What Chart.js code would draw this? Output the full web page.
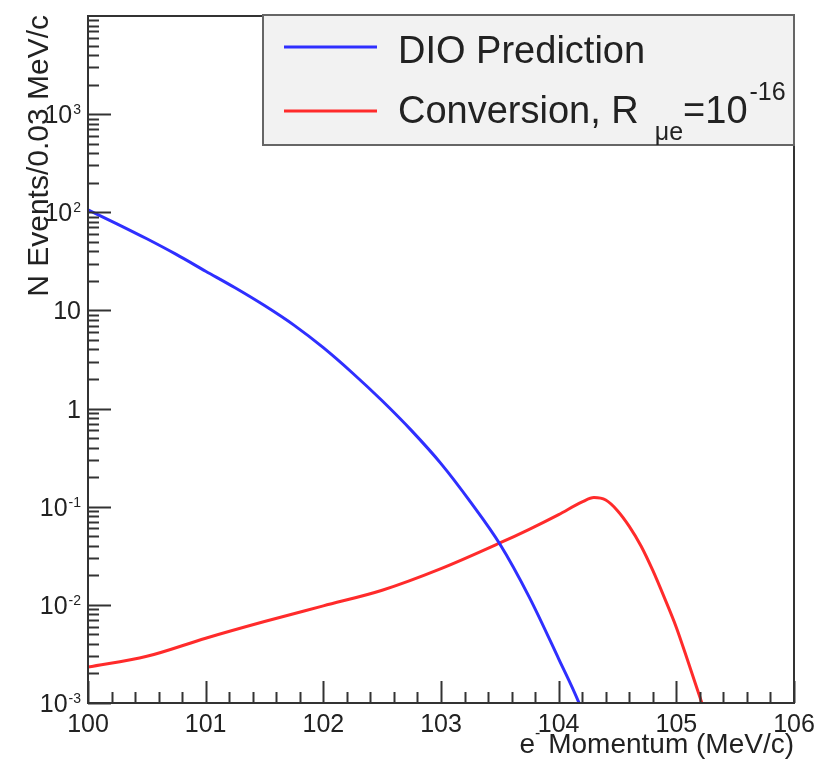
<!DOCTYPE html>
<html>
<head>
<meta charset="utf-8">
<title>DIO vs Conversion</title>
<script src="https://cdn.jsdelivr.net/npm/chart.js@4.4.1/dist/chart.umd.min.js"></script>
<style>
  html, body { margin: 0; padding: 0; background: #fff; }
  #wrap { position: relative; width: 818px; height: 764px; }
</style>
</head>
<body>
<div id="wrap"><canvas id="momentumChart"></canvas></div>
<script>
// values (momentum in MeV/c, events per 0.03 MeV/c)
const dioMomentum = [100.00, 100.25, 100.50, 100.75, 101.00, 101.25, 101.50, 101.75, 102.00, 102.25,
  102.50, 102.75, 103.00, 103.25, 103.50, 103.75, 104.00, 104.17, 104.22];
const dioEvents = [106, 75.9, 53.7, 37.2, 25.1, 17.0, 11.2, 7.08, 4.17, 2.29,
  1.20, 0.596, 0.275, 0.112, 0.0417, 0.0120, 0.00282, 0.00102, 0.0007];

const convMomentum = [100.00, 100.50, 101.00, 101.50, 102.00, 102.50, 103.00, 103.50, 103.75, 104.00,
  104.20, 104.30, 104.40, 104.50, 104.60, 104.70, 104.80, 104.90, 105.00, 105.10, 105.20, 105.25];
const convEvents = [0.00232, 0.00299, 0.00457, 0.00676, 0.00977, 0.0141, 0.0234, 0.0427, 0.0589, 0.0832,
  0.112, 0.124, 0.117, 0.0912, 0.0631, 0.0398, 0.0224, 0.0117, 0.00589, 0.00263, 0.00115, 0.00076];

const xTicks = [100, 101, 102, 103, 104, 105, 106];
const yTicks = [0.001, 0.01, 0.1, 1, 10, 100, 1000];
const yTickLabels = [['10', '-3'], ['10', '-2'], ['10', '-1'], ['1', ''], ['10', ''], ['10', '2'], ['10', '3']];

const FONT = '"Liberation Sans", Arial, Helvetica, sans-serif';
const BLUE = '#2f2fff';
const RED = '#ff2b2b';

const toPoints = (xs, ys) => xs.map((x, i) => ({ x, y: ys[i] }));

// text with a raised or lowered small part, returns the x after drawing
function drawPart(ctx, text, x, y, size) {
  ctx.font = `${size}px ${FONT}`;
  ctx.fillText(text, x, y);
  return x + ctx.measureText(text).width;
}

// ROOT-like frame: inward ticks, power labels, titles and a boxed legend
const rootFrame = {
  id: 'rootFrame',
  afterDraw(chart) {
    const { ctx, chartArea: area, scales: { x, y } } = chart;
    ctx.save();
    ctx.strokeStyle = '#333';
    ctx.lineWidth = 2;

    // x ticks every 0.2
    for (let i = 0; i <= 30; i++) {
      const v = 100 + i * 0.2;
      const px = Math.round(x.getPixelForValue(v)) + 0.5;
      const len = i % 5 === 0 ? 22 : 11;
      ctx.beginPath();
      ctx.moveTo(px, area.bottom);
      ctx.lineTo(px, area.bottom - len);
      ctx.stroke();
    }

    // y ticks: decades plus 2..9
    for (let d = -3; d <= 3; d++) {
      for (let k = 1; k <= 9; k++) {
        const v = k * Math.pow(10, d);
        const py = Math.round(y.getPixelForValue(v)) + 0.5;
        const len = k === 1 ? 23 : 11;
        ctx.beginPath();
        ctx.moveTo(area.left, py);
        ctx.lineTo(area.left + len, py);
        ctx.stroke();
      }
    }

    // frame
    ctx.strokeRect(area.left, area.top, area.right - area.left, area.bottom - area.top);

    ctx.fillStyle = '#222';
    ctx.textBaseline = 'alphabetic';

    // x labels
    ctx.font = `25px ${FONT}`;
    ctx.textAlign = 'center';
    xTicks.forEach((v) => {
      ctx.fillText(String(v), x.getPixelForValue(v), area.bottom + 29);
    });

    // y labels, right edge at 81
    ctx.textAlign = 'left';
    yTicks.forEach((v, i) => {
      const [base, exp] = yTickLabels[i];
      const mid = y.getPixelForValue(v);
      ctx.font = `25px ${FONT}`;
      const bw = ctx.measureText(base).width;
      ctx.font = `14px ${FONT}`;
      const ew = exp ? ctx.measureText(exp).width + 1 : 0;
      const left = 81 - bw - ew;
      drawPart(ctx, base, left, mid + 9, 25);
      if (exp) drawPart(ctx, exp, left + bw + 1, mid, 14);
    });

    // x title, right aligned to the frame
    ctx.font = `28px ${FONT}`;
    const eW = ctx.measureText('e').width;
    const restText = ' Momentum (MeV/c)';
    const restW = ctx.measureText(restText).width;
    ctx.font = `16px ${FONT}`;
    const supW = ctx.measureText('-').width;
    let tx = area.right - eW - supW - restW;
    tx = drawPart(ctx, 'e', tx, 753, 28);
    tx = drawPart(ctx, '-', tx, 738, 16);
    drawPart(ctx, restText, tx, 753, 28);

    // y title, rotated, ending at the top
    ctx.save();
    ctx.translate(48, 15);
    ctx.rotate(-Math.PI / 2);
    ctx.textAlign = 'right';
    ctx.font = `30px ${FONT}`;
    ctx.fillText('N Events/0.03 MeV/c', 0, 0);
    ctx.restore();

    // legend box
    ctx.fillStyle = '#f2f2f2';
    ctx.fillRect(263, 15, 531, 130);
    ctx.strokeStyle = '#666';
    ctx.lineWidth = 2;
    ctx.strokeRect(263, 15, 531, 130);

    ctx.lineWidth = 3;
    ctx.strokeStyle = BLUE;
    ctx.beginPath();
    ctx.moveTo(284, 47);
    ctx.lineTo(377, 47);
    ctx.stroke();
    ctx.strokeStyle = RED;
    ctx.beginPath();
    ctx.moveTo(284, 111);
    ctx.lineTo(377, 111);
    ctx.stroke();

    ctx.fillStyle = '#222';
    ctx.textAlign = 'left';
    drawPart(ctx, 'DIO Prediction', 398, 63, 38);
    let lx = drawPart(ctx, 'Conversion, R', 398, 123, 38);
    lx = drawPart(ctx, '\u03bce', lx + 16, 140, 25);
    lx = drawPart(ctx, '=10', lx, 123, 38);
    drawPart(ctx, '-16', lx + 2, 100, 25);

    ctx.restore();
  },
};

new Chart(document.getElementById('momentumChart'), {
  type: 'line',
  data: {
    datasets: [
      {
        label: 'DIO Prediction',
        data: toPoints(dioMomentum, dioEvents),
        borderColor: BLUE,
        borderWidth: 3,
        pointRadius: 0,
        cubicInterpolationMode: 'monotone',
      },
      {
        label: 'Conversion, R\u03bce=10^-16',
        data: toPoints(convMomentum, convEvents),
        borderColor: RED,
        borderWidth: 3,
        pointRadius: 0,
        cubicInterpolationMode: 'monotone',
      },
    ],
  },
  options: {
    responsive: true,
    maintainAspectRatio: false,
    animation: false,
    layout: { padding: { left: 88, top: 16, right: 24, bottom: 61 } },
    plugins: {
      legend: { display: false },
      tooltip: { enabled: false },
    },
    scales: {
      x: { type: 'linear', min: 100, max: 106, display: false },
      y: { type: 'logarithmic', min: 0.001, max: 10000, display: false },
    },
  },
  plugins: [rootFrame],
});
</script>
</body>
</html>
